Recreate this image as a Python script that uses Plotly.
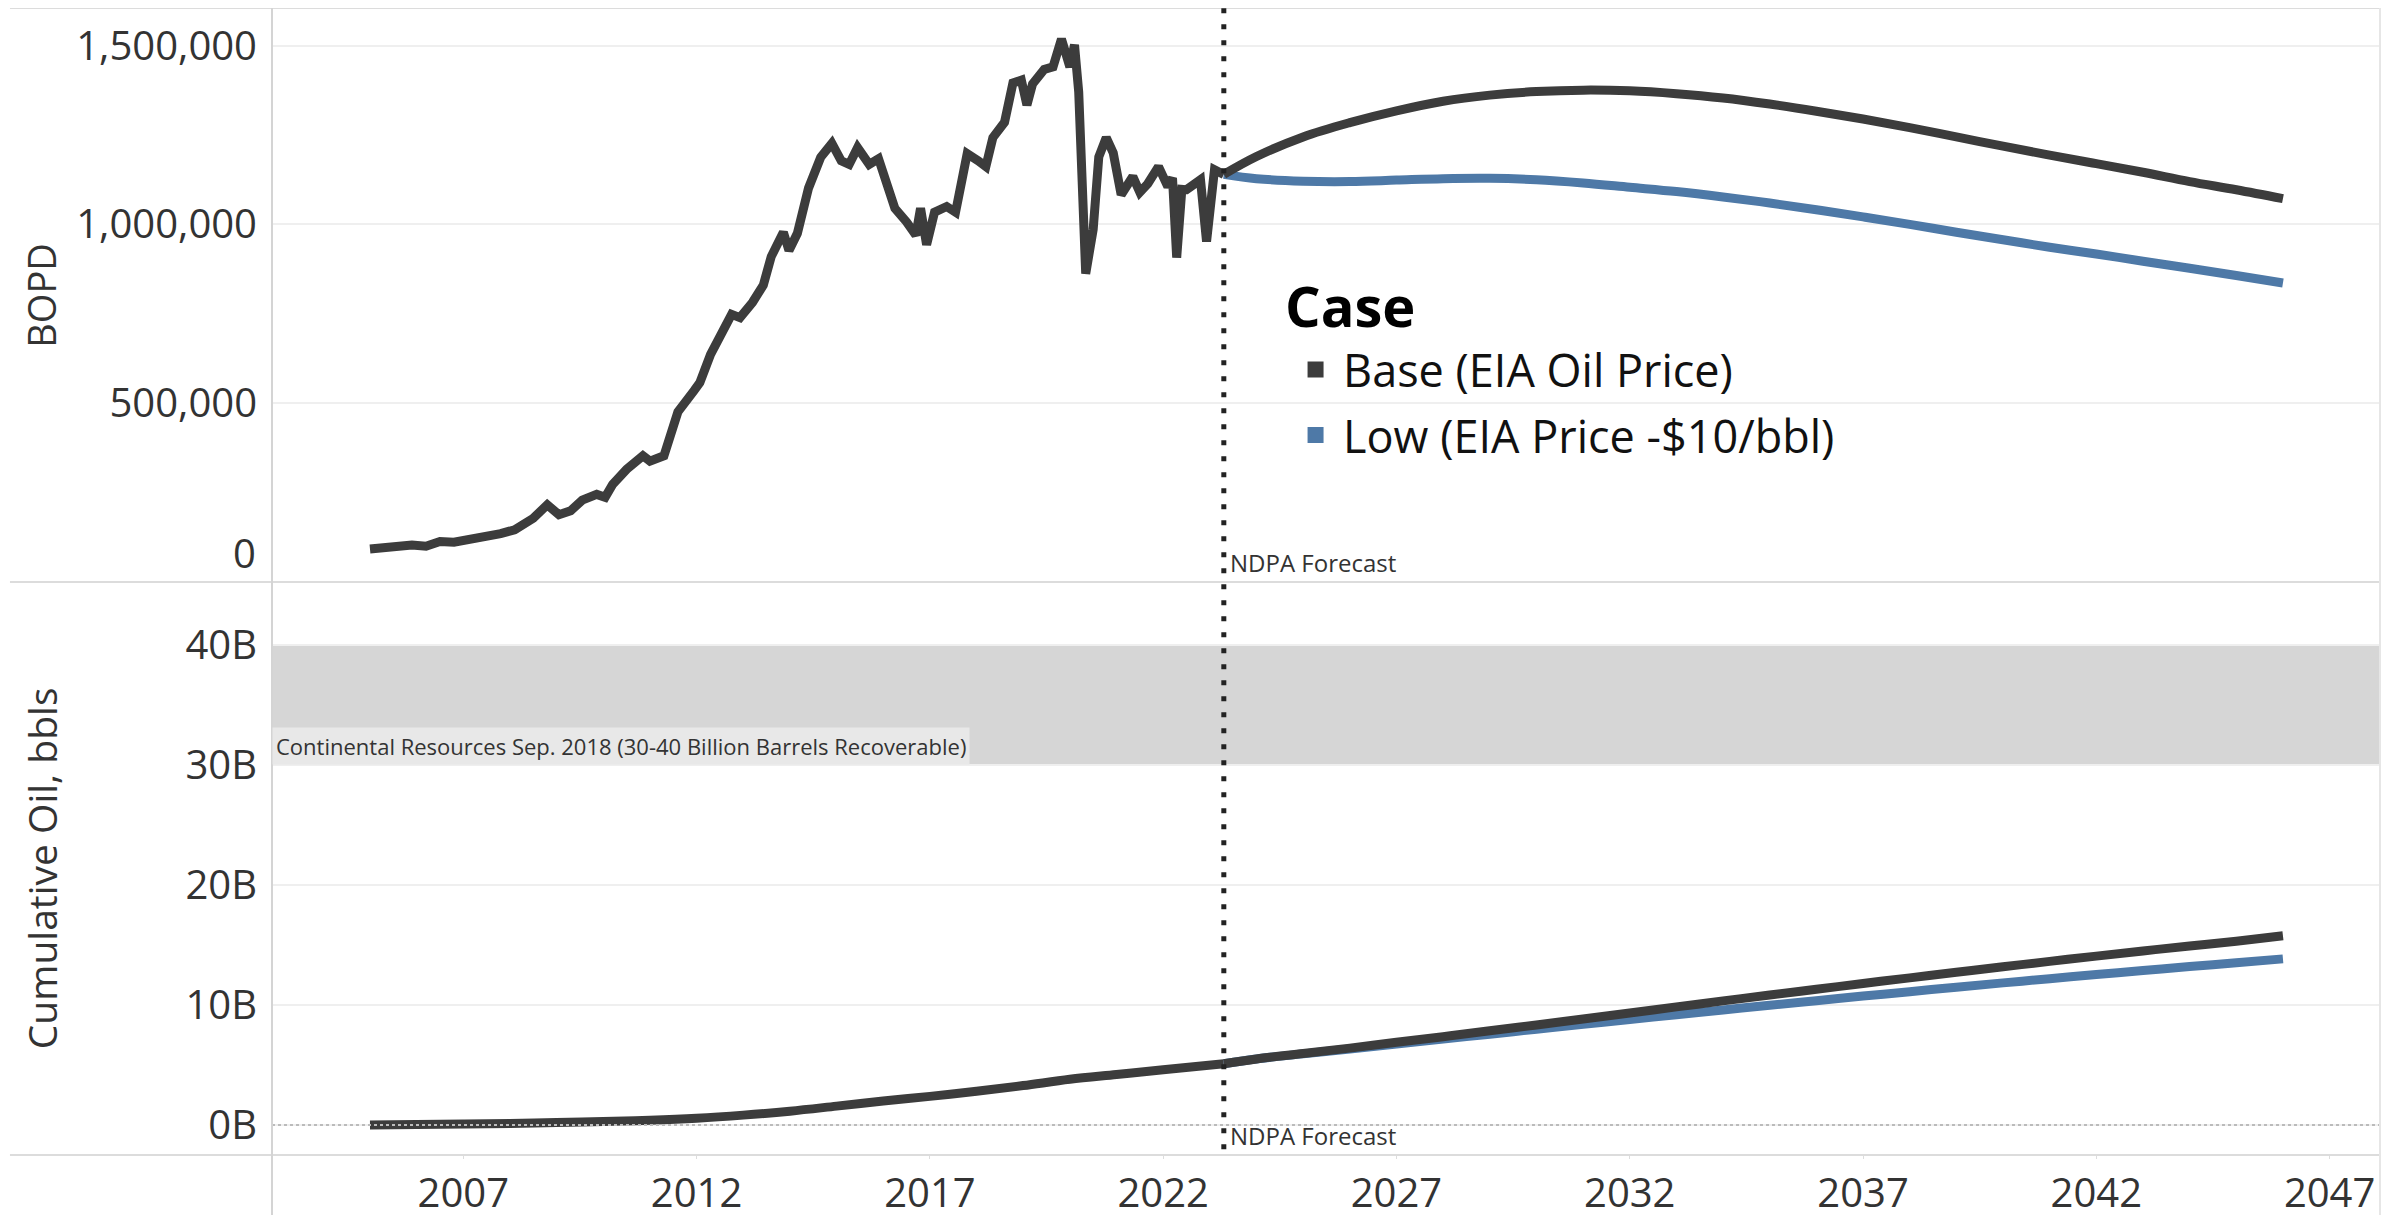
import plotly.graph_objects as go
from plotly.subplots import make_subplots

# historical BOPD (decimal year, value)
hist_year = [2005.00, 2005.50, 2005.90, 2006.20, 2006.50, 2006.80, 2007.15, 2007.50, 2007.80, 2008.10,
             2008.50, 2008.80, 2009.05, 2009.30, 2009.55, 2009.86, 2010.04, 2010.20, 2010.50, 2010.85,
             2011.00, 2011.30, 2011.45, 2011.60, 2011.95, 2012.07, 2012.30, 2012.56, 2012.75, 2012.93,
             2013.20, 2013.43, 2013.60, 2013.86, 2013.98, 2014.16, 2014.40, 2014.66, 2014.90, 2015.10,
             2015.27, 2015.45, 2015.70, 2015.90, 2016.07, 2016.25, 2016.50, 2016.70, 2016.80, 2016.93,
             2017.10, 2017.36, 2017.55, 2017.80, 2018.04, 2018.20, 2018.35, 2018.60, 2018.78, 2018.96,
             2019.08, 2019.20, 2019.45, 2019.64, 2019.82, 2020.00, 2020.10, 2020.19, 2020.34, 2020.50,
             2020.62, 2020.78, 2020.93, 2021.10, 2021.35, 2021.50, 2021.67, 2021.90, 2022.10, 2022.20,
             2022.29, 2022.40, 2022.50, 2022.80, 2022.93, 2023.10, 2023.30]
hist_bopd = [91000, 98000, 102000, 99000, 112000, 110000, 118000, 124000, 134000, 145000,
             177000, 215000, 187000, 198000, 228000, 244000, 236000, 272000, 314000, 352000,
             337000, 352000, 405000, 475000, 535000, 557000, 636000, 696000, 748000, 739000,
             782000, 830000, 910000, 978000, 927000, 975000, 1102000, 1188000, 1227000, 1178000,
             1168000, 1215000, 1168000, 1184000, 1120000, 1045000, 1007000, 970000, 1045000, 943000,
             1034000, 1050000, 1034000, 1198000, 1178000, 1162000, 1243000, 1286000, 1396000, 1404000,
             1334000, 1393000, 1434000, 1441000, 1519000, 1441000, 1503000, 1371000, 862000, 986000,
             1189000, 1243000, 1200000, 1083000, 1134000, 1090000, 1114000, 1162000, 1106000, 1130000,
             907000, 1098000, 1097000, 1125000, 952000, 1153000, 1140000]

fc_year = [2023.3, 2024, 2025, 2026, 2027, 2028, 2029, 2030, 2031, 2032, 2033, 2034,
           2035, 2036, 2037, 2038, 2039, 2040, 2041, 2042, 2043, 2044, 2045, 2046]
base_bopd = [1140000, 1190000, 1245000, 1285000, 1318000, 1345000, 1362000, 1372000, 1376000, 1374000,
             1366000, 1354000, 1337000, 1317000, 1295000, 1271000, 1245000, 1219000, 1194000, 1170000,
             1146000, 1120000, 1097000, 1072000]
low_bopd = [1140000, 1128000, 1121000, 1120000, 1124000, 1128000, 1129000, 1125000, 1116000, 1104000,
            1092000, 1077000, 1060000, 1041000, 1021000, 1000000, 978000, 957000, 936000, 917000,
            897000, 877000, 857000, 836000]

# cumulative oil, billions of barrels
cum_hist_year = [2005, 2006, 2007, 2008, 2009, 2010, 2011, 2012, 2013, 2014, 2015, 2016,
                 2017, 2018, 2019, 2020, 2021, 2022, 2023.3]
cum_hist = [0.0, 0.04, 0.08, 0.13, 0.2, 0.28, 0.39, 0.56, 0.82, 1.15, 1.57, 2.0,
            2.38, 2.8, 3.28, 3.8, 4.2, 4.6, 5.1]
cum_base = [5.1, 5.5, 5.95, 6.4, 6.88, 7.35, 7.84, 8.33, 8.83, 9.33, 9.83, 10.33,
            10.82, 11.3, 11.78, 12.25, 12.71, 13.17, 13.62, 14.06, 14.49, 14.9, 15.3, 15.75]
cum_low = [5.1, 5.5, 5.92, 6.33, 6.74, 7.15, 7.56, 7.97, 8.38, 8.78, 9.18, 9.58,
           9.97, 10.35, 10.73, 11.1, 11.47, 11.83, 12.18, 12.52, 12.86, 13.19, 13.5, 13.83]

year_ticks = [2007, 2012, 2017, 2022, 2027, 2032, 2037, 2042, 2047]
bopd_ticks = [0, 500000, 1000000, 1500000]
bopd_labels = ['', '500,000', '1,000,000', '1,500,000']
cum_ticks = [0, 10e9, 20e9, 30e9, 40e9]
cum_labels = ['0B', '10B', '20B', '30B', '40B']

forecast_start = 2023.3
DARK = '#3c3c3c'
BLUE = '#4e79a7'
FONT = 'Open Sans'
LW = 9

fig = make_subplots(rows=2, cols=1, shared_xaxes=True, vertical_spacing=0)

fig.add_trace(go.Scatter(x=hist_year, y=hist_bopd, mode='lines', line=dict(color=DARK, width=LW),
                         showlegend=False), row=1, col=1)
fig.add_trace(go.Scatter(x=fc_year, y=low_bopd, mode='lines', line=dict(color=BLUE, width=LW, shape='spline'),
                         showlegend=False), row=1, col=1)
fig.add_trace(go.Scatter(x=fc_year, y=base_bopd, mode='lines', line=dict(color=DARK, width=LW, shape='spline'),
                         showlegend=False), row=1, col=1)

fig.add_trace(go.Scatter(x=cum_hist_year, y=[v * 1e9 for v in cum_hist], mode='lines',
                         line=dict(color=DARK, width=LW, shape='spline'), showlegend=False), row=2, col=1)
fig.add_trace(go.Scatter(x=fc_year, y=[v * 1e9 for v in cum_low], mode='lines',
                         line=dict(color=BLUE, width=LW, shape='spline'), showlegend=False), row=2, col=1)
fig.add_trace(go.Scatter(x=fc_year, y=[v * 1e9 for v in cum_base], mode='lines',
                         line=dict(color=DARK, width=LW, shape='spline'), showlegend=False), row=2, col=1)

# legend entries with square swatches
fig.add_trace(go.Scatter(x=[None], y=[None], mode='markers', name='Base (EIA Oil Price)', legendgroup='a',
                         marker=dict(symbol='square', size=16, color=DARK)), row=1, col=1)
fig.add_trace(go.Scatter(x=[None], y=[None], mode='markers', name='Low (EIA Price -$10/bbl)', legendgroup='b',
                         marker=dict(symbol='square', size=16, color=BLUE)), row=1, col=1)

tick_font = dict(family=FONT, size=40, color='#333333')

xr = [2002.9, 2048.08]
fig.update_xaxes(range=xr, showgrid=False, zeroline=False, showline=False, automargin=False)
fig.update_xaxes(showticklabels=False, ticks='', row=1, col=1)
fig.update_xaxes(tickvals=year_ticks, ticks='outside', ticklen=3, tickcolor='#dddddd',
                 tickfont=tick_font, row=2, col=1)

fig.update_yaxes(range=[0, 1606000], tickvals=bopd_ticks, ticktext=bopd_labels, automargin=False,
                 gridcolor='#efefef', gridwidth=2, zeroline=False, ticklabelstandoff=14,
                 tickfont=tick_font, row=1, col=1)
fig.update_yaxes(range=[-2.5e9, 45.25e9], tickvals=cum_ticks, ticktext=cum_labels, automargin=False,
                 gridcolor='#efefef', gridwidth=2, zeroline=False, ticklabelstandoff=14,
                 tickfont=tick_font, row=2, col=1)

shapes = [
    # recoverable resource band
    dict(type='rect', xref='x2 domain', x0=0, x1=1, yref='y2', y0=30e9, y1=40e9,
         fillcolor='#d6d6d6', line=dict(width=0), layer='below'),
    # zero line of the cumulative pane
    dict(type='line', xref='x2 domain', x0=0, x1=1, yref='y2', y0=0, y1=0,
         line=dict(color='#bbbbbb', width=2, dash='dot')),
    # pane borders
    dict(type='line', xref='paper', x0=-0.1243, x1=1, yref='paper', y0=1, y1=1, line=dict(color='#dcdcdc', width=2)),
    dict(type='line', xref='paper', x0=-0.1243, x1=1, yref='paper', y0=0.4996, y1=0.4996, line=dict(color='#dcdcdc', width=2)),
    dict(type='line', xref='paper', x0=-0.1243, x1=1, yref='paper', y0=0, y1=0, line=dict(color='#dcdcdc', width=2)),
    dict(type='line', xref='paper', x0=0, x1=0, yref='paper', y0=-0.06, y1=1, line=dict(color='#d4d4d4', width=2)),
    dict(type='line', xref='paper', x0=1, x1=1, yref='paper', y0=-0.06, y1=1, line=dict(color='#e6e6e6', width=2)),
    # forecast marker
    dict(type='line', xref='x', x0=forecast_start, x1=forecast_start, yref='paper', y0=0.005, y1=1,
         line=dict(color='#222222', width=5, dash='5px,11px')),
]

annotations = [
    dict(text='0', xref='paper', x=0, xanchor='right', xshift=-14, yref='y', y=0, yanchor='bottom',
         showarrow=False, font=tick_font),
    dict(text='BOPD', xref='paper', x=-0.1096, xanchor='center', yref='paper', y=0.75, yanchor='middle',
         textangle=-90, showarrow=False, font=dict(family=FONT, size=38, color='#333333')),
    dict(text='Cumulative Oil, bbls', xref='paper', x=-0.1096, xanchor='center', yref='paper', y=0.25,
         yanchor='middle', textangle=-90, showarrow=False, font=dict(family=FONT, size=39, color='#333333')),
    dict(text='NDPA Forecast', xref='x', x=forecast_start, xanchor='left', xshift=4,
         yref='y', y=0, yanchor='bottom', yshift=1,
         showarrow=False, font=dict(family=FONT, size=24, color='#333333')),
    dict(text='NDPA Forecast', xref='x', x=forecast_start, xanchor='left', xshift=4,
         yref='y2 domain', y=0, yanchor='bottom', yshift=1,
         showarrow=False, font=dict(family=FONT, size=24, color='#333333')),
    dict(text='Continental Resources Sep. 2018 (30-40 Billion Barrels Recoverable)',
         xref='x2 domain', x=0, xanchor='left', yref='y2', y=30e9, yanchor='bottom',
         bgcolor='#e8e8e8', borderpad=3, showarrow=False,
         font=dict(family=FONT, size=22, color='#333333')),
    # legend heading
    dict(text='<b>Case</b>', xref='paper', x=0.4796, xanchor='left', yref='paper', y=0.741, yanchor='middle',
         showarrow=False, font=dict(family=FONT, size=56, color='#000000')),
]

fig.update_layout(
    width=2400, height=1215,
    margin=dict(l=264, r=28, t=0, b=68),
    paper_bgcolor='white', plot_bgcolor='white',
    font=dict(family=FONT, color='#333333'),
    shapes=shapes, annotations=annotations,
    legend=dict(x=0.482, y=0.716, xanchor='left', yanchor='top', bgcolor='rgba(0,0,0,0)',
                itemwidth=45, font=dict(family=FONT, size=45, color='#111111'), tracegroupgap=4),
)

fig.write_html("out.html")
